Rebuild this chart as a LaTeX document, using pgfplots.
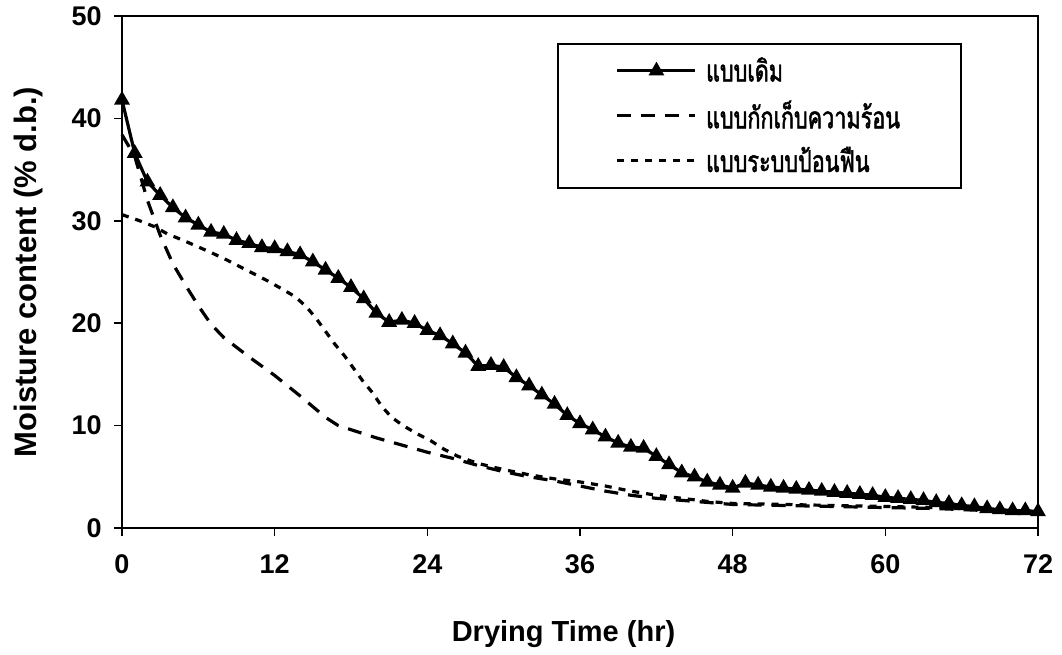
\documentclass[border=0pt]{standalone}
\usepackage{fontspec}
\setmainfont{Liberation Sans}
\newfontfamily\thaifont[Script=Thai, FakeStretch=0.72, FakeBold=1.6]{Loma}
\usepackage{pgfplots}
\pgfplotsset{compat=1.18}

% hourly readings, original dryer (triangles)
\pgfplotstableread{
t mc
0 41.8
1 36.6
2 33.8
3 32.5
4 31.3
5 30.3
6 29.6
7 28.9
8 28.7
9 28.1
10 27.8
11 27.4
12 27.3
13 27.0
14 26.7
15 26.0
16 25.2
17 24.4
18 23.5
19 22.4
20 21.0
21 20.1
22 20.3
23 20.0
24 19.3
25 18.8
26 18.0
27 17.1
28 15.8
29 15.9
30 15.7
31 14.7
32 13.9
33 13.0
34 12.1
35 11.0
36 10.2
37 9.6
38 8.9
39 8.3
40 7.9
41 7.8
42 7.0
43 6.2
44 5.4
45 5.0
46 4.5
47 4.2
48 3.9
49 4.4
50 4.2
51 4.0
52 3.9
53 3.8
54 3.7
55 3.6
56 3.5
57 3.4
58 3.3
59 3.2
60 3.0
61 2.9
62 2.8
63 2.7
64 2.5
65 2.4
66 2.2
67 2.1
68 1.9
69 1.8
70 1.7
71 1.7
72 1.6
}\orig

% heat storage dryer (dashed)
\pgfplotstableread{
t mc
0 38.4
1 36.3
2 32.0
3 28.6
4 25.8
5 23.7
6 21.7
7 19.9
8 18.6
10 16.7
12 14.9
14 12.9
16 10.8
17 10.0
20 8.8
22 8.1
24 7.4
26 6.8
28 6.1
30 5.5
32 5.0
34 4.6
36 4.1
38 3.6
40 3.2
42 2.9
44 2.7
46 2.5
48 2.3
52 2.2
56 2.1
60 2.0
64 1.9
68 1.7
72 1.5
}\storage

% fuel feeding dryer (dotted)
\pgfplotstableread{
t mc
0 30.6
1.4 30.0
2.6 29.4
3.6 28.7
4.8 28.1
5.9 27.5
7 26.9
8.2 26.2
9.3 25.5
10.4 24.8
11.5 24.1
12.5 23.4
13.6 22.6
14.5 21.6
15.3 20.4
16 19.2
16.7 18.0
17.5 16.8
18.2 15.6
18.9 14.4
19.7 13.2
20.4 11.9
21.2 10.8
22.1 10.0
23.2 9.2
24.3 8.5
25.3 7.7
26.4 7.0
28 6.3
30 5.7
32 5.2
34 4.8
36 4.5
38 4.1
40 3.6
42 3.2
44 2.9
46 2.6
48 2.4
52 2.3
56 2.2
60 2.1
64 2.0
68 1.8
72 1.6
}\feed

\begin{document}
\begin{tikzpicture}
\begin{axis}[
  name=ax,
  scale only axis, width=458pt, height=256pt,
  xmin=0, xmax=72, ymin=0, ymax=50,
  xtick={0,12,...,72}, ytick={0,10,...,50},
  xtick pos=bottom, ytick pos=left,
  tick align=outside, major tick length=4pt,
  axis line style={line width=1pt}, every tick/.style={black, line width=0.8pt},
  /pgf/number format/assume math mode=true,
  tick label style={font=\fontsize{13.5}{14}\selectfont\bfseries, inner sep=0pt},
  xticklabel style={anchor=center, yshift=-14pt},
  yticklabel style={anchor=east, xshift=-6pt},
  xlabel={Drying Time (hr)},
  ylabel={Moisture content (\% d.b.)},
  xlabel style={font=\fontsize{14.5}{16}\selectfont\bfseries, at={(axis description cs:0.482,0)}, anchor=center, yshift=-53pt},
  ylabel style={font=\fontsize{15.5}{17}\selectfont\bfseries, at={(axis description cs:0,0.5)}, anchor=center, yshift=47pt},
  clip=false,
  legend image code/.code={\draw[mark repeat=2, mark phase=2, #1] plot coordinates {(0pt,0pt) (19.5pt,0pt) (39pt,0pt)};},
  legend cell align=left,
  legend style={at={(0.475,0.947)}, anchor=north west, draw=black, line width=0.75pt,
    inner xsep=29pt, inner ysep=2.25pt, row sep=0pt, column sep=4.5pt,
    font=\fontsize{15}{17}\selectfont\thaifont,
    nodes={inner sep=0pt, minimum height=22.5pt}},
]
\addplot[black, line width=1.6pt, mark=triangle*, mark size=3pt, mark options={solid}] table[x=t, y=mc] {\orig};
\addlegendentry{\makebox[98.5pt][l]{แบบเดิม}}
\addplot[black, line width=1.6pt, dash pattern=on 7pt off 5pt] table[x=t, y=mc] {\storage};
\addlegendentry{\makebox[98.5pt][l]{แบบกักเก็บความร้อน}}
\addplot[black, line width=1.6pt, dash pattern=on 3.5pt off 3.5pt] table[x=t, y=mc] {\feed};
\addlegendentry{\makebox[98.5pt][l]{แบบระบบป้อนฟืน}}
\end{axis}
\pgfresetboundingbox
\path ([shift={(-61pt,-63pt)}]ax.south west) rectangle ([shift={(12pt,8pt)}]ax.north east);
\end{tikzpicture}
\end{document}
